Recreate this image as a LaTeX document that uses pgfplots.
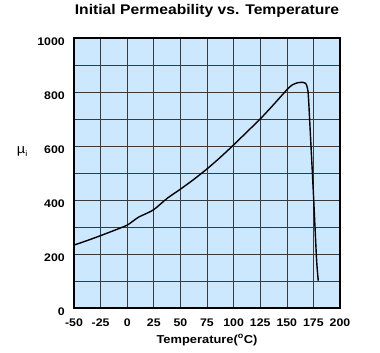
\documentclass[border=0pt]{standalone}
\usepackage{pgfplots}
\pgfplotsset{compat=1.18}
\usepackage{fontspec}
\setmainfont{Liberation Sans}[FakeStretch=1.12]
\newfontfamily\lsb{Liberation Sans Bold}[FakeStretch=1.12]
\definecolor{bgblue}{HTML}{CCE8FF}
\definecolor{gridc}{HTML}{3A3A3A}
\begin{document}
\begin{tikzpicture}
\path[use as bounding box] (-74pt,-45pt) rectangle (306pt,308pt);
\begin{axis}[
  scale only axis,
  width=266pt, height=270pt,
  xmin=-50, xmax=200, ymin=0, ymax=1000,
  xtick={-50,-25,...,200},
  ytick={0,200,...,1000},
  minor ytick={100,300,...,900},
  grid=both,
  major grid style={gridc, line width=0.6pt},
  minor grid style={gridc, line width=0.6pt},
  major tick length=0pt, minor tick length=0pt,
  axis background/.style={fill=bgblue},
  axis line style={black, line width=1.6pt},
  ticklabel style={font=\fontsize{11}{12}\lsb, inner sep=0pt},
  /pgf/number format/assume math mode=true,
  /pgf/number format/1000 sep={},
  xticklabel style={anchor=base, yshift=-18pt},
  yticklabel style={anchor=east, xshift=-9pt, yshift=-3.5pt},
  xlabel={Temperature(\textsuperscript{o}C)},
  xlabel style={font=\fontsize{11.5}{12}\lsb, at={(0.5,0)}, anchor=base, yshift=-35pt, inner sep=0pt},
  title={Initial Permeability vs. Temperature},
  title style={font=\fontsize{14}{14}\lsb, at={(0.5,1)}, anchor=base, yshift=17.3pt, inner sep=0pt},
  clip=false,
]
\addplot[black, line width=1.4pt, smooth, tension=0.4] coordinates {
  (-50,233) (-37.5,250) (-25,268) (-12.5,287) (0,307) (10.5,336)
  (24.5,363) (37.5,406) (50,440) (62.5,476) (75,515) (87.5,558)
  (100,604) (112.5,652) (125,700) (137.5,753) (150,808) (155,826)
  (160,834) (165,836) (168,831)
};
\addplot[black, line width=1.4pt, smooth, tension=0.4] coordinates {
  (168,831) (170,800) (171.8,672) (175,425) (178,178) (179.6,101)
};
\node[font=\fontsize{13}{13}\selectfont] at (rel axis cs:-0.195,0.581) {µ\raisebox{-3pt}{\fontsize{8}{8}\selectfont i}};
\end{axis}
\end{tikzpicture}
\end{document}
